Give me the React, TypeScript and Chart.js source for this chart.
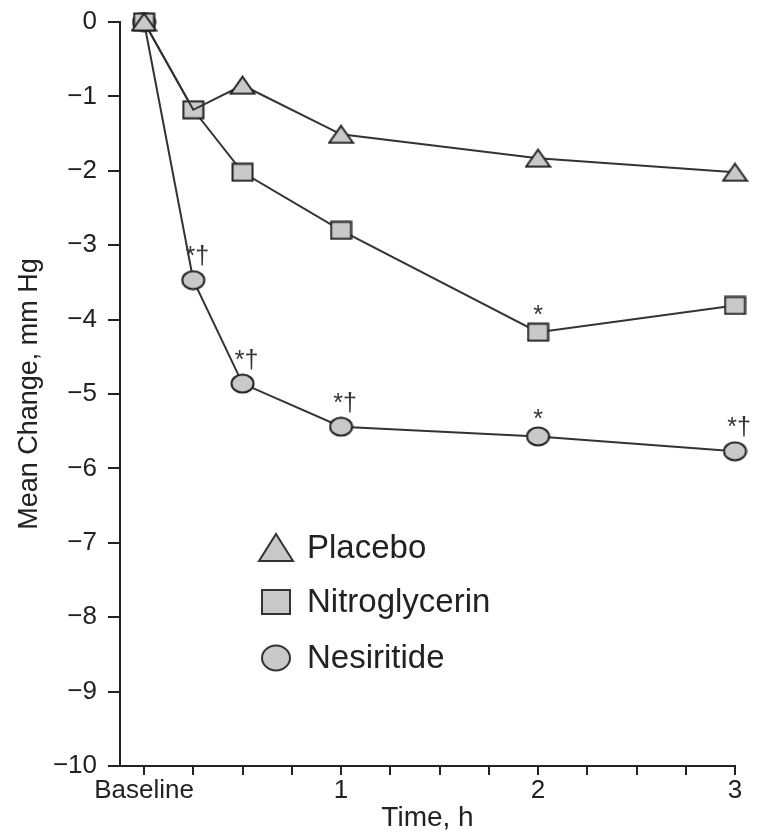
import React, { useEffect, useRef } from "react";
import { Chart, registerables } from "chart.js";

Chart.register(...registerables);

// ---- data ----
const hours = [0, 0.25, 0.5, 1, 2, 3];
const placebo = [0, -1.18, -0.85, -1.51, -1.83, -2.02];
const nitroglycerin = [0, -1.18, -2.02, -2.8, -4.17, -3.81];
const nesiritide = [0, -3.47, -4.86, -5.44, -5.57, -5.77];
const nitroMarks = ["", "", "", "", "*", ""];
const nesiritideMarks = ["", "*†", "*†", "*†", "*", "*†"];
const seriesNames = ["Placebo", "Nitroglycerin", "Nesiritide"];
const xTickValues = [0, 0.25, 0.5, 0.75, 1, 1.25, 1.5, 1.75, 2, 2.25, 2.5, 2.75, 3];
const xTickLabels: Record<string, string> = { "0": "Baseline", "1": "1", "2": "2", "3": "3" };
const yTickValues = [0, -1, -2, -3, -4, -5, -6, -7, -8, -9, -10];
const xAxisTitle = "Time, h";
const yAxisTitle = "Mean Change, mm Hg";

const FONT = "'Liberation Sans', Arial, Helvetica, sans-serif";
const INK = "#222222";
const FILL = "#c9c9c9";

function toPoints(vals: number[]) {
  return hours.map((h, i) => ({ x: h, y: vals[i] }));
}

function makeMarker(kind: "triangle" | "rect" | "circle", w: number, h: number) {
  const c = document.createElement("canvas");
  c.width = w;
  c.height = h;
  const ctx = c.getContext("2d")!;
  ctx.fillStyle = FILL;
  ctx.strokeStyle = INK;
  ctx.lineWidth = 2;
  ctx.beginPath();
  if (kind === "triangle") {
    ctx.moveTo(w / 2, 1.5);
    ctx.lineTo(w - 1.5, h - 1.5);
    ctx.lineTo(1.5, h - 1.5);
    ctx.closePath();
  } else if (kind === "rect") {
    ctx.rect(1.5, 1.5, w - 3, h - 3);
  } else {
    ctx.ellipse(w / 2, h / 2, w / 2 - 1.5, h / 2 - 1.5, 0, 0, Math.PI * 2);
  }
  ctx.fill();
  ctx.stroke();
  return c;
}

const legendPlugin = {
  id: "customLegend",
  afterDraw(chart: any) {
    const ctx = chart.ctx;
    const area = chart.chartArea;
    const iconX = area.left + 156;
    const textX = area.left + 187;
    const rows = [area.top + 526, area.top + 580, area.top + 636];
    ctx.save();
    ctx.lineWidth = 2;
    ctx.strokeStyle = "#333";
    ctx.fillStyle = FILL;
    let y = rows[0];
    ctx.beginPath();
    ctx.moveTo(iconX, y - 14);
    ctx.lineTo(iconX + 17, y + 13);
    ctx.lineTo(iconX - 17, y + 13);
    ctx.closePath();
    ctx.fill();
    ctx.stroke();
    y = rows[1];
    ctx.beginPath();
    ctx.rect(iconX - 14, y - 12, 28, 24);
    ctx.fill();
    ctx.stroke();
    y = rows[2];
    ctx.beginPath();
    ctx.ellipse(iconX, y, 14, 12.5, 0, 0, Math.PI * 2);
    ctx.fill();
    ctx.stroke();
    ctx.fillStyle = INK;
    ctx.font = `33px ${FONT}`;
    ctx.textAlign = "left";
    ctx.textBaseline = "middle";
    seriesNames.forEach((n, i) => ctx.fillText(n, textX, rows[i] + 1));
    ctx.restore();
  },
};

const marksPlugin = {
  id: "sigMarks",
  afterDatasetsDraw(chart: any) {
    const ctx = chart.ctx;
    ctx.save();
    ctx.fillStyle = "#333";
    ctx.font = `25px ${FONT}`;
    ctx.textAlign = "center";
    ctx.textBaseline = "alphabetic";
    const draw = (dsIndex: number, marks: string[]) => {
      const meta = chart.getDatasetMeta(dsIndex);
      marks.forEach((m, i) => {
        if (!m) return;
        const el = meta.data[i];
        const dagger = m.includes("†");
        ctx.fillText(m, el.x + (dagger ? 4 : 0), el.y - (dagger ? 16 : 9));
      });
    };
    draw(1, nitroMarks);
    draw(2, nesiritideMarks);
    ctx.restore();
  },
};

export default function App() {
  const ref = useRef<HTMLCanvasElement | null>(null);

  useEffect(() => {
    if (!ref.current) return;
    const tri = makeMarker("triangle", 27, 20);
    const sq = makeMarker("rect", 23, 20);
    const circ = makeMarker("circle", 25, 21);
    const common = {
      borderColor: "#333333",
      borderWidth: 2,
      pointBackgroundColor: FILL,
      pointBorderColor: INK,
      pointBorderWidth: 2,
      pointRadius: 12,
      clip: false as any,
      tension: 0,
    };
    const chart = new Chart(ref.current, {
      type: "line",
      data: {
        datasets: [
          {
            ...common,
            label: seriesNames[0],
            data: toPoints(placebo),
            pointStyle: [tri, false, tri, tri, tri, tri],
          },
          {
            ...common,
            label: seriesNames[1],
            data: toPoints(nitroglycerin),
            pointStyle: sq,
          },
          {
            ...common,
            label: seriesNames[2],
            data: toPoints(nesiritide),
            pointStyle: circ,
          },
        ],
      },
      options: {
        responsive: false,
        animation: false,
        devicePixelRatio: 1,
        layout: { padding: { left: 0, top: 22, right: 43, bottom: 0 } },
        plugins: { legend: { display: false }, tooltip: { enabled: false } },
        scales: {
          x: {
            type: "linear",
            min: -0.122,
            max: 3,
            afterBuildTicks: (s: any) => {
              s.ticks = xTickValues.map((v) => ({ value: v }));
            },
            afterFit: (s: any) => {
              s.height = 69;
              s.paddingLeft = 0;
              s.paddingRight = 0;
            },
            ticks: {
              autoSkip: false,
              maxRotation: 0,
              padding: 0,
              color: INK,
              font: { family: FONT, size: 26 },
              callback: (v: any) => xTickLabels[String(v)] ?? "",
            },
            grid: {
              display: true,
              drawOnChartArea: false,
              drawTicks: true,
              tickLength: 9,
              color: INK,
              lineWidth: 2,
            },
            border: { display: true, color: INK, width: 2 },
            title: {
              display: true,
              text: xAxisTitle,
              color: INK,
              font: { family: FONT, size: 28 },
              padding: { top: 0, bottom: 0 },
            },
          },
          y: {
            type: "linear",
            min: -10,
            max: 0,
            afterBuildTicks: (s: any) => {
              s.ticks = yTickValues.map((v) => ({ value: v }));
            },
            afterFit: (s: any) => {
              s.width = 120;
              s.paddingTop = 0;
              s.paddingBottom = 0;
            },
            ticks: {
              autoSkip: false,
              padding: 11,
              color: INK,
              font: { family: FONT, size: 26 },
              callback: (v: any) => (v === 0 ? "0" : "\u2212" + Math.abs(v)),
            },
            grid: {
              display: true,
              drawOnChartArea: false,
              drawTicks: true,
              tickLength: 12,
              color: INK,
              lineWidth: 2,
            },
            border: { display: true, color: INK, width: 2 },
            title: {
              display: true,
              text: yAxisTitle,
              color: INK,
              font: { family: FONT, size: 27 },
              padding: { top: 13, bottom: 0 },
            },
          },
        },
      },
      plugins: [legendPlugin, marksPlugin],
    } as any);
    return () => chart.destroy();
  }, []);

  return (
    <div style={{ position: "absolute", left: 0, top: 0, width: 778, height: 835, background: "#fff" }}>
      <canvas ref={ref} width={778} height={835} />
    </div>
  );
}
